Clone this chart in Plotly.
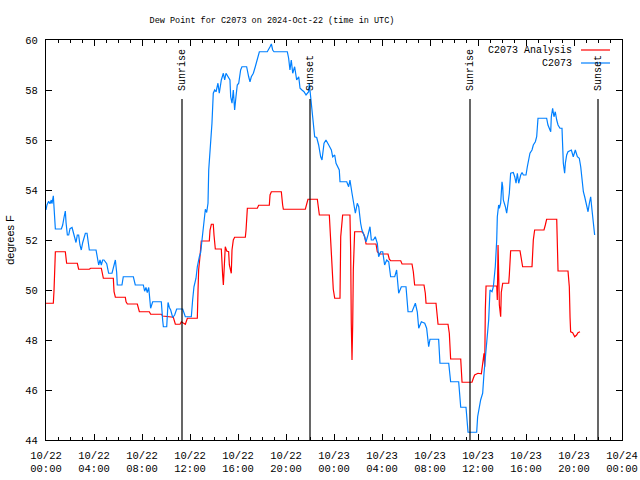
import pandas as pd
import plotly.graph_objects as go

# ---------------- data ----------------
BASE = "2024-10-22 00:00"
TITLE = "Dew Point for C2073 on 2024-Oct-22 (time in UTC)"
Y_LABEL = "degrees F"

# observed station series (hours since 2024-10-22 00:00 UTC, deg F)
obs_hours = [
    0.0, 0.08, 0.22, 0.33, 0.44, 0.5, 0.61, 0.67, 0.72, 0.78, 1.28, 1.39, 1.5, 1.61, 1.67,
    1.78, 1.89, 2.0, 2.17, 2.28, 2.39, 2.5, 2.61, 2.72, 2.83, 2.94, 3.06, 3.17, 3.28, 3.42,
    3.5, 3.61, 4.17, 4.28, 4.39, 4.5, 4.61, 4.72, 4.83, 5.06, 5.22, 5.5, 5.61, 5.78, 5.89,
    5.94, 6.33, 6.44, 7.28, 7.44, 8.11, 8.22, 8.33, 8.44, 8.56, 8.67, 8.72, 8.89, 9.61, 9.72,
    9.78, 10.06, 10.17, 10.28, 10.39, 10.56, 10.72, 10.89, 11.39, 11.61, 12.11, 12.22, 12.33,
    12.5, 12.61, 12.78, 12.89, 13.0, 13.11, 13.22, 13.28, 13.39, 13.5, 13.56, 13.72, 13.83,
    13.94, 14.06, 14.17, 14.33, 14.44, 14.61, 14.78, 14.89, 15.0, 15.17, 15.33, 15.39, 15.5,
    15.61, 15.72, 15.83, 15.94, 16.06, 16.22, 16.33, 16.72, 16.89, 17.0, 17.11, 17.28, 17.44,
    17.61, 17.78, 18.44, 18.56, 18.67, 18.78, 18.89, 19.0, 20.11, 20.22, 20.33, 20.44, 20.56,
    20.72, 20.89, 21.06, 21.17, 21.33, 21.5, 21.67, 21.89, 21.94, 22.06, 22.22, 22.39, 22.56,
    22.72, 22.89, 23.0, 23.17, 23.33, 23.56, 23.78, 23.89, 24.06, 24.17, 24.28, 24.44, 24.5,
    24.72, 25.06, 25.22, 25.33, 25.5, 25.61, 25.78, 25.94, 26.06, 26.22, 26.33, 26.5, 26.67,
    26.83, 27.0, 27.11, 27.28, 27.44, 27.61, 27.72, 27.89, 28.06, 28.22, 28.39, 28.56, 28.72,
    29.06, 29.22, 29.39, 29.61, 30.0, 30.17, 30.5, 30.78, 30.94, 31.06, 31.28, 31.56, 31.72,
    31.89, 32.0, 32.72, 32.83, 33.56, 33.72, 34.39, 34.56, 35.0, 35.17, 35.89, 35.97, 36.22,
    36.39, 36.5, 36.61, 36.72, 36.89, 37.0, 37.17, 37.28, 37.44, 37.56, 37.61, 37.72, 37.78,
    37.89, 38.0, 38.06, 38.11, 38.28, 38.39, 38.5, 38.61, 38.72, 38.94, 39.06, 39.17, 39.28,
    39.39, 39.56, 39.67, 39.78, 40.0, 40.11, 40.22, 40.33, 40.5, 40.61, 40.78, 40.89, 41.0,
    41.72, 41.83, 41.94, 42.06, 42.11, 42.22, 42.33, 42.44, 42.56, 42.67, 42.83, 43.0, 43.11,
    43.22, 43.28, 43.39, 43.5, 43.78, 43.94, 44.11, 44.28, 44.44, 44.56, 44.67, 44.78, 44.89,
    45.0, 45.17, 45.28, 45.39, 45.5, 45.61, 45.72,
]
obs_values = [
    53.2, 53.4, 53.55, 53.45, 53.6, 53.45, 53.77, 53.4, 52.75, 52.44, 52.44, 52.6, 52.9, 53.16, 52.7,
    52.2, 52.2, 52.45, 52.5, 52.3, 52.0, 51.9, 52.2, 52.2, 51.8, 51.6, 51.9, 52.1, 52.27, 52.27,
    52.0, 51.6, 51.6, 51.3, 51.0, 51.2, 51.0, 51.2, 51.2, 51.05, 50.67, 50.67, 50.9, 51.2, 50.7,
    50.2, 50.2, 50.53, 50.53, 50.2, 50.2, 49.95, 50.1, 49.9, 50.1, 49.6, 49.27, 49.53, 49.53, 48.8,
    48.53, 48.53, 49.5, 49.3, 49.2, 48.9, 49.0, 49.24, 49.24, 48.93, 48.93, 49.6, 50.13,
    50.47, 50.93, 51.33, 51.5, 52.0, 52.4, 52.87, 53.23, 53.1, 53.47, 54.8, 55.73, 56.67,
    57.87, 58.0, 57.93, 58.27, 57.87, 58.4, 58.67, 58.4, 58.67, 58.53, 58.4, 57.73, 57.47,
    58.0, 57.2, 57.73, 58.2, 58.27, 58.8, 58.93, 58.93, 58.53, 58.33, 58.53, 58.67, 58.93,
    59.2, 59.53, 59.53, 59.67, 59.73, 59.84, 59.6, 59.53, 59.53, 59.27, 58.8, 59.2, 58.67,
    58.93, 58.4, 58.53, 58.07, 58.0, 57.93, 57.8, 57.93, 58.27, 57.67, 56.93, 56.13, 56.1,
    55.8, 55.33, 55.2, 55.87, 56.0, 55.8, 55.6, 55.33, 55.4, 55.07, 54.93, 54.8, 54.33,
    54.33, 54.33, 54.13, 54.4, 53.87, 53.53, 53.07, 53.47, 53.33, 52.67, 52.4, 52.2, 51.93,
    52.2, 52.53, 52.0, 52.0, 52.13, 51.87, 51.33, 51.53, 51.53, 51.0, 51.2, 51.13, 50.53,
    50.53, 50.8, 49.87, 50.13, 50.13, 49.13, 49.13, 49.47, 49.13, 48.47, 48.73, 48.67, 48.47,
    47.73, 48.03, 48.03, 47.07, 47.07, 46.33, 46.33, 45.31, 45.31, 44.31, 44.31, 44.93, 45.6,
    45.87, 46.67, 47.33, 48.0, 48.8, 50.0, 49.93, 50.13, 50.93, 52.0, 52.93, 53.4, 53.27,
    53.47, 54.33, 54.13, 53.6, 53.33, 53.07, 53.47, 53.87, 54.67, 54.7, 54.53, 54.27, 54.67,
    54.27, 54.6, 54.7, 54.6, 54.6, 54.93, 55.2, 55.47, 55.6, 55.8, 55.93, 56.13, 56.87,
    56.87, 56.6, 56.47, 56.33, 56.93, 57.27, 56.93, 57.13, 56.8, 56.6, 56.47, 56.47, 55.07,
    54.67, 55.07, 55.4, 55.53, 55.6, 55.33, 55.6, 55.33, 55.27, 54.93, 54.33, 53.93, 53.73,
    53.53, 53.13, 53.47, 53.73, 53.2, 52.73, 52.2,
]

# analysis series (hours since 2024-10-22 00:00 UTC, deg F)
ana_hours = [
    0.0, 0.61, 0.67, 0.72, 0.78, 1.61, 1.72, 2.61, 2.67, 2.72, 3.61, 3.72, 4.61, 4.72, 4.78,
    5.61, 5.67, 5.78, 6.61, 6.67, 6.78, 7.61, 7.78, 8.61, 8.72, 9.61, 9.72, 10.61, 10.72, 10.78,
    11.17, 11.28, 11.44, 11.61, 11.78, 12.61, 12.67, 12.72, 12.83, 12.94, 13.61, 13.67, 13.78,
    13.94, 14.0, 14.11, 14.61, 14.67, 14.72, 14.78, 14.83, 14.89, 14.94, 15.06, 15.22, 15.28,
    15.33, 15.44, 15.5, 15.61, 15.72, 16.61, 16.67, 16.78, 17.61, 17.72, 18.61, 18.67, 18.78,
    19.61, 19.72, 19.78, 21.61, 21.72, 21.83, 22.61, 22.72, 22.78, 23.61, 23.72, 23.78, 23.89,
    23.94, 24.06, 24.5, 24.56, 24.72, 25.33, 25.39, 25.44, 25.5, 25.56, 25.61, 25.72, 26.33,
    26.44, 26.56, 26.67, 27.5, 27.61, 27.78, 28.5, 28.61, 28.72, 29.56, 29.67, 30.5, 30.61,
    30.72, 31.5, 31.61, 31.67, 32.5, 32.61, 32.67, 33.5, 33.61, 33.72, 34.56, 34.67, 35.5,
    35.61, 35.72, 36.0, 36.17, 36.28, 36.5, 36.56, 36.61, 36.67, 37.56, 37.61, 37.67, 37.78,
    37.89, 37.94, 38.06, 38.56, 38.61, 38.67, 38.72, 39.5, 39.61, 39.72, 40.5, 40.61, 40.72,
    41.5, 41.61, 41.72, 42.56, 42.61, 42.67, 43.5, 43.61, 43.67, 43.72, 43.89, 44.06, 44.22,
    44.33, 44.5,
]
ana_values = [
    49.47, 49.47, 50.0, 51.0, 51.53, 51.53, 51.07, 51.07, 50.96, 50.83, 50.83, 50.87, 50.87, 50.6, 50.47,
    50.47, 49.93, 49.71, 49.71, 49.53, 49.44, 49.44, 49.13, 49.13, 49.03, 49.03, 48.96, 48.91, 48.7, 48.63,
    48.63, 48.73, 48.68, 48.63, 48.87, 48.87, 50.0, 50.8, 51.33, 51.96, 51.96, 52.4, 52.63,
    52.63, 52.2, 51.64, 51.64, 51.27, 50.6, 50.2, 50.93, 51.4, 51.73, 51.56, 51.53, 51.0,
    50.9, 50.67, 51.6, 52.0, 52.11, 52.11, 52.4, 53.27, 53.27, 53.39, 53.39, 53.8, 53.93,
    53.93, 53.4, 53.23, 53.23, 53.47, 53.63, 53.63, 53.13, 53.0, 53.0, 52.07, 51.33, 50.6,
    50.03, 49.67, 49.67, 52.13, 53.0, 53.0, 51.53, 48.67, 47.2, 48.67, 50.8, 52.33, 52.33,
    52.27, 52.13, 51.84, 51.84, 51.53, 51.44, 51.44, 51.23, 51.17, 51.17, 51.04, 51.04, 50.73,
    50.2, 50.2, 49.87, 49.47, 49.47, 48.93, 48.63, 48.63, 48.27, 47.24, 47.24, 46.31, 46.31,
    46.47, 46.6, 46.67, 46.67, 46.65, 47.47, 46.93, 49.2, 50.16, 50.16, 49.6, 51.8, 49.4,
    48.93, 49.9, 50.27, 50.27, 50.6, 51.27, 51.57, 51.57, 51.27, 50.93, 50.93, 52.0, 52.4,
    52.4, 52.6, 52.83, 52.83, 51.27, 50.76, 50.76, 50.13, 48.91, 48.33, 48.29, 48.13, 48.2,
    48.29, 48.33,
]

# sun events (UTC)
event_labels = ["Sunrise", "Sunset", "Sunrise", "Sunset"]
event_times = ["2024-10-22 11:20", "2024-10-22 22:00", "2024-10-23 11:20", "2024-10-23 22:00"]
EVENT_TOP = 57.64

series_names = ["C2073 Analysis", "C2073"]
series_colors = ["#ff0000", "#0080ff"]

X_RANGE = ["2024-10-22 00:00", "2024-10-24 00:00"]
Y_RANGE = [44, 60]
Y_TICKS = [44, 46, 48, 50, 52, 54, 56, 58, 60]

# ---------------- figure ----------------
base = pd.Timestamp(BASE)
obs_t = base + pd.to_timedelta(obs_hours, unit="h")
ana_t = base + pd.to_timedelta(ana_hours, unit="h")

MONO = "Liberation Mono, DejaVu Sans Mono, monospace"

fig = go.Figure()
fig.add_trace(go.Scatter(x=ana_t, y=ana_values, mode="lines", name=series_names[0],
                         line=dict(color=series_colors[0], width=1.2)))
fig.add_trace(go.Scatter(x=obs_t, y=obs_values, mode="lines", name=series_names[1],
                         line=dict(color=series_colors[1], width=1.2)))

for lab, t in zip(event_labels, event_times):
    fig.add_shape(type="line", xref="x", yref="y", x0=t, x1=t, y0=Y_RANGE[0], y1=EVENT_TOP,
                  line=dict(color="black", width=1.2))
    fig.add_annotation(x=t, y=EVENT_TOP, xref="x", yref="y", text=lab, textangle=-90,
                       showarrow=False, xanchor="center", yanchor="bottom", yshift=6,
                       font=dict(family=MONO, size=10, color="black"))

# manual legend (sample line right of the text, as in the original)
PW = 576.0
PH = 400.0
legend_rows = [1.0 - 10.0 / PH, 1.0 - 23.0 / PH]
for name, color, yy in zip(series_names, series_colors, legend_rows):
    fig.add_annotation(x=(574 - 46) / PW, y=yy, xref="paper", yref="paper", text=name,
                       showarrow=False, xanchor="right", yanchor="middle",
                       font=dict(family=MONO, size=10, color="black"))
    fig.add_shape(type="line", xref="paper", yref="paper", x0=(581 - 46) / PW,
                  x1=(610 - 46) / PW, y0=yy, y1=yy, line=dict(color=color, width=1.2))

fig.update_layout(
    template="none",
    width=640, height=480,
    margin=dict(l=46, r=18, t=40, b=40, autoexpand=False),
    paper_bgcolor="white", plot_bgcolor="white",
    showlegend=False,
    title=dict(text=TITLE, x=272 / 640, xref="container", xanchor="center",
               y=1 - 20 / 480, yref="container", yanchor="middle",
               font=dict(family=MONO, size=8.5, color="black")),
    font=dict(family=MONO, size=10, color="black"),
)
fig.update_xaxes(
    type="date", range=X_RANGE, dtick=4 * 3600 * 1000, tick0=BASE,
    tickformat="%m/%d<br>%H:%M", ticks="inside", ticklen=6, tickcolor="black",
    showline=True, linecolor="black", linewidth=1, mirror="ticks",
    showgrid=False, zeroline=False, automargin=False, ticklabelstandoff=5,
    minor=dict(dtick=3600 * 1000, ticks="inside", ticklen=3, tickcolor="black", showgrid=False),
    tickfont=dict(family=MONO, size=10.5, color="black"),
)
fig.update_yaxes(
    range=Y_RANGE, tickvals=Y_TICKS, ticks="inside", ticklen=6, tickcolor="black",
    showline=True, linecolor="black", linewidth=1, mirror="ticks",
    showgrid=False, zeroline=False, automargin=False, ticklabelstandoff=5,
    tickfont=dict(family=MONO, size=10.5, color="black"),
    title=dict(text=Y_LABEL, font=dict(family="Liberation Sans, Arial, sans-serif", size=11,
                                       color="black"), standoff=8),
)

fig.write_html("out.html", config={"displayModeBar": False},
               post_script="document.body.style.margin='0';")
